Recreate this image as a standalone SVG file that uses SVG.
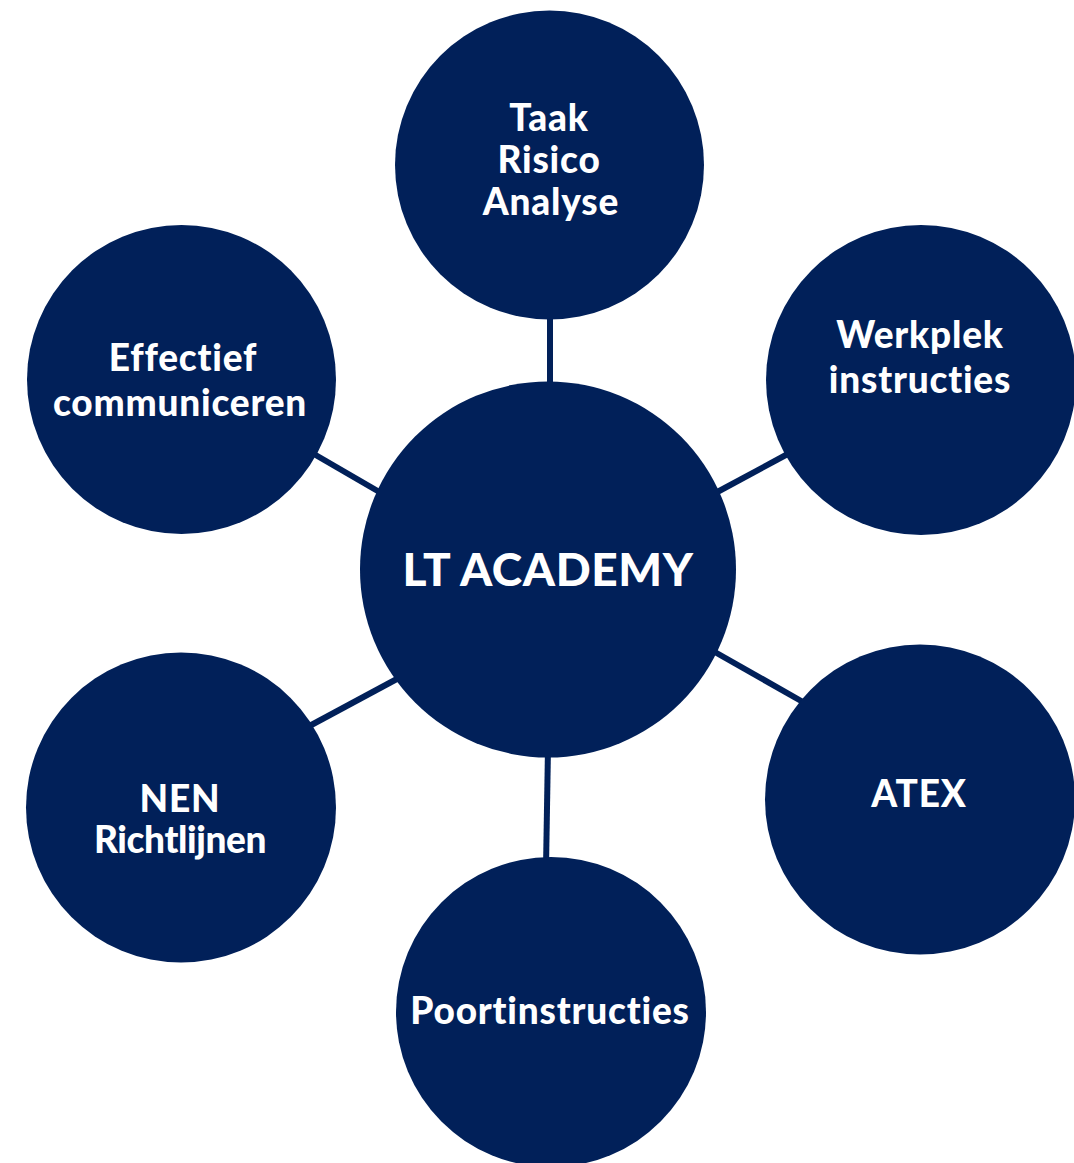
<svg xmlns="http://www.w3.org/2000/svg" width="1074" height="1163" viewBox="0 0 1074 1163">
<style>
.n{fill:#012059}
.c{stroke:#012059;stroke-width:6;fill:none}
.t{fill:#fff;font-family:Lato,"Open Sans",sans-serif;font-weight:900;font-size:37px;text-anchor:middle;font-variant-ligatures:no-common-ligatures;letter-spacing:0.8px}
.big{font-size:46px;letter-spacing:0.6px}
</style>
<rect width="1074" height="1163" fill="#fff"/>
<g id="connectors">
<line class="c" x1="550" y1="310" x2="550" y2="392"/>
<line class="c" x1="548" y1="748" x2="546" y2="868"/>
<line class="c" x1="708" y1="497" x2="797" y2="449"/>
<line class="c" x1="307" y1="450" x2="388" y2="497"/>
<line class="c" x1="302" y1="730" x2="408" y2="673"/>
<line class="c" x1="706" y1="647" x2="810" y2="706"/>
</g>
<g id="center"><circle class="n" cx="548" cy="569.5" r="188"/><text class="t big" x="548" y="586">LT ACADEMY</text></g>
<g id="taak"><circle class="n" cx="549.5" cy="165" r="154.5"/><text class="t" x="549" y="131">Taak</text><text class="t" x="549" y="173">Risico</text><text class="t" x="551" y="215">Analyse</text></g>
<g id="werkplek"><circle class="n" cx="921" cy="380" r="155"/><text class="t" x="920" y="348">Werkplek</text><text class="t" x="920" y="393">instructies</text></g>
<g id="effectief"><circle class="n" cx="181.5" cy="379.5" r="154.5"/><text class="t" x="183" y="371">Effectief</text><text class="t" x="180" y="416">communiceren</text></g>
<g id="nen"><circle class="n" cx="181" cy="807.5" r="155"/><text class="t" x="180" y="812">NEN</text><text class="t" x="180" y="853" style="letter-spacing:-0.4px">Richtlijnen</text></g>
<g id="atex"><circle class="n" cx="920" cy="799.5" r="155"/><text class="t" x="919" y="807">ATEX</text></g>
<g id="poort"><circle class="n" cx="551" cy="1012" r="155"/><text class="t" x="550" y="1024">Poortinstructies</text></g>
</svg>
